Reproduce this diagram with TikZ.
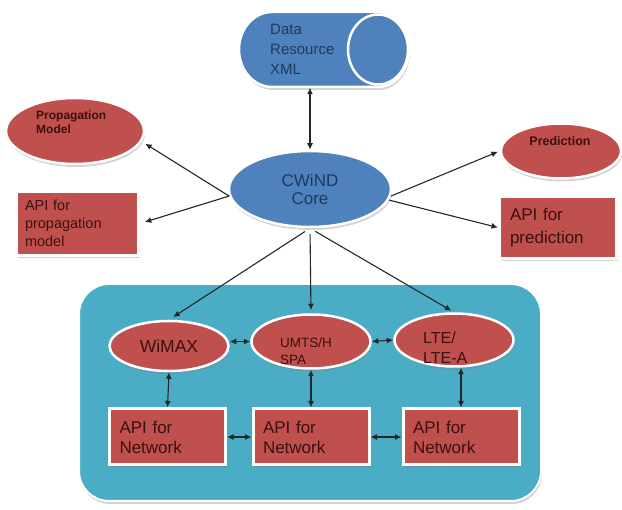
\documentclass[tikz,border=0pt]{standalone}
\usepackage{fontspec}
\setmainfont{Liberation Sans}
\usetikzlibrary{shapes.geometric,arrows.meta,shadows}

\definecolor{ppblue}{HTML}{4F81BD}
\definecolor{ppred}{HTML}{C0504D}
\definecolor{ppteal}{HTML}{4BACC6}
\definecolor{navytext}{HTML}{1F3A5F}
\definecolor{maroontext}{HTML}{3A1111}

\begin{document}
\begin{tikzpicture}[x=1pt, y=-1pt,
  >={Latex[length=6.5pt,width=6pt]},
  conn/.style={line width=1.1pt, black!85},
  shad/.style={drop shadow={shadow xshift=1pt, shadow yshift=-3pt, opacity=0.35}},
  blueell/.style={ellipse, draw=white, line width=2.5pt, fill=ppblue, shad, inner sep=0pt, text=navytext},
  redell/.style={ellipse, draw=white, line width=2.5pt, fill=ppred, shad, inner sep=0pt, text=maroontext},
  redbox/.style={rectangle, draw=white, line width=3pt, fill=ppred, shad, inner sep=0pt, align=left, text=maroontext},
  lbl/.style={inner sep=0pt, align=left, anchor=west}
]
\useasboundingbox (0,0) rectangle (622,510);

% Network container
\node[rectangle, rounded corners=30pt, draw=white, line width=2pt, fill=ppteal, shad,
      minimum width=462pt, minimum height=217pt] (net) at (310,392.5) {};

% Data resource (cylinder on its side)
\draw[white, line width=2.5pt, fill=ppblue, shad] (272,12) -- (378,12)
  arc[start angle=-90, end angle=90, x radius=31, y radius=37.5] -- (272,87)
  arc[start angle=90, end angle=270, x radius=33, y radius=37.5] -- cycle;
\draw[white, line width=2.5pt, fill=ppblue] (378,49.5) ellipse [x radius=30, y radius=35];
\node[lbl, minimum height=77pt, text=navytext, font=\fontsize{15}{20}\selectfont] (xml) at (270,49) {Data\\Resource\\XML};

% Core
\node[blueell, minimum width=162pt, minimum height=76pt, align=center,
      font=\fontsize{17}{18}\selectfont] (core) at (310,189) {CWiND\\Core};

% Left side
\node[redell, minimum width=138pt, minimum height=66pt] (pm) at (75,131) {};
\node[lbl, text=maroontext, font=\bfseries\fontsize{12}{13.5}\selectfont] at (36,122) {Propagation\\Model};
\node[redbox, minimum width=122pt, minimum height=64pt, text width=105pt,
      font=\fontsize{14.5}{18}\selectfont] (apipm) at (77.5,223.5) {API for\\propagation\\model};

% Right side
\node[redell, minimum width=120pt, minimum height=55pt] (pred) at (561,151) {};
\node[text=maroontext, inner sep=0pt, font=\bfseries\fontsize{12.5}{14}\selectfont] at (560,141) {Prediction};
\node[redbox, minimum width=117pt, minimum height=62pt, text width=96pt,
      font=\fontsize{17}{23}\selectfont] (apipred) at (558,227.5) {API for\\prediction};

% Networks
\node[redell, minimum width=119pt, minimum height=50pt, font=\fontsize{17.5}{20}\selectfont] (wimax) at (169,346) {WiMAX};
\node[redell, minimum width=119pt, minimum height=54pt] (umts) at (311,341.5) {};
\node[lbl, text=maroontext, font=\fontsize{13.5}{17}\selectfont] at (280,351) {UMTS/H\\SPA};
\node[redell, minimum width=119pt, minimum height=53pt] (lte) at (454,340) {};
\node[lbl, text=maroontext, font=\fontsize{16}{20}\selectfont] at (423,348) {LTE/\\LTE-A};

% Network APIs
\node[redbox, minimum width=116pt, minimum height=56pt, text width=96pt,
      font=\fontsize{17}{20}\selectfont] (apiwimax) at (167.5,437) {API for\\Network};
\node[redbox, minimum width=116pt, minimum height=56pt, text width=96pt,
      font=\fontsize{17}{20}\selectfont] (apiumts) at (311,437) {API for\\Network};
\node[redbox, minimum width=116pt, minimum height=56pt, text width=96pt,
      font=\fontsize{17}{20}\selectfont] (apilte) at (461,437) {API for\\Network};

% Connections from core
\draw[conn, <->] (core.north) -- (core.north |- xml.south);
\draw[conn, ->, shorten >=4pt] (core.185) -- (pm.-9);
\draw[conn, ->, shorten >=5pt] (core.185) -- (apipm.east);
\draw[conn, ->, shorten >=2pt] (core.-5) -- (pred.west);
\draw[conn, ->] (core.-8) -- (apipred.west);
\draw[conn, ->, shorten <=6pt, shorten >=5pt] (core.south) -- (wimax.north);
\draw[conn, ->, shorten <=6pt, shorten >=3pt] (core.south) -- (umts.north);
\draw[conn, ->, shorten <=6pt, shorten >=3pt] (core.south) -- (lte.north);

% Connections between networks
\draw[conn, <->] (umts.west -| wimax.east) -- (umts.west);
\draw[conn, <->] (umts.east) -- (lte.west);
\draw[conn, <->] (wimax.south) -- (apiwimax.north);
\draw[conn, <->] (umts.south) -- (apiumts.north);
\draw[conn, <->] (apilte.north |- lte.south) -- (apilte.north);
\draw[conn, <->] (apiwimax.east) -- (apiumts.west);
\draw[conn, <->] (apiumts.east) -- (apilte.west);
\end{tikzpicture}
\end{document}
